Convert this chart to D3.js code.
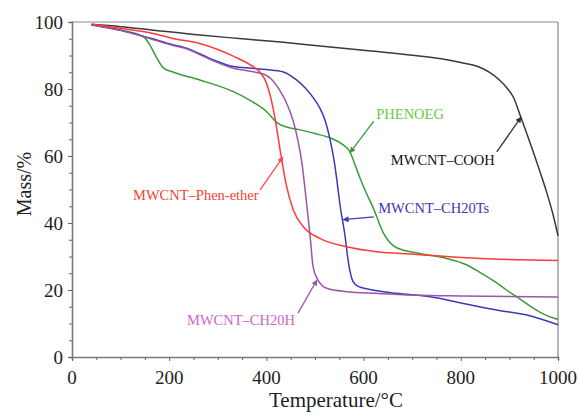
<!DOCTYPE html>
<html><head><meta charset="utf-8">
<script src="https://cdn.jsdelivr.net/npm/d3@7/dist/d3.min.js"></script>
<style>
html,body{margin:0;padding:0;background:#fff;}
svg{display:block;font-family:'Liberation Serif',serif;}
</style></head>
<body><svg id="c" width="579" height="416"></svg>
<script>
// ---- data (Temperature °C, Mass %) ----
const xTicks = [0, 200, 400, 600, 800, 1000];
const yTicks = [0, 20, 40, 60, 80, 100];
const seriesNames = ["MWCNT–COOH", "PHENOEG", "MWCNT–CH20Ts", "MWCNT–CH20H", "MWCNT–Phen-ether"];

const cooh = [[40,99.3],[100,98.6],[160,97.7],[263,96.1],[350,95.0],[430,94.0],[500,93.0],[600,91.6],[700,90.1],[760,89.0],[800,87.9],[835,86.7],[860,84.9],[880,82.6],[895,80.3],[908,77.6],[922,72.2],[935,67.0],[949,61.3],[963,55.3],[977,49.0],[990,42.4],[1000,36.2]];
const phenoeg = [[40,99.2],[100,97.6],[147,95.6],[160,93.2],[174,89.4],[188,86.3],[209,85.0],[263,82.7],[332,79.2],[370,76.3],[400,73.3],[423,69.8],[445,68.5],[470,67.8],[500,66.7],[531,65.4],[555,63.6],[572,61.2],[582,57.5],[593,53.3],[606,48.8],[619,44.8],[640,37.2],[668,32.6],[716,30.9],[771,29.4],[810,27.6],[840,25.2],[870,22.5],[894,20.0],[922,17.3],[949,14.6],[975,12.5],[1000,11.2]];
const ch20ts = [[40,99.2],[100,97.5],[160,95.2],[208,93.2],[229,92.5],[291,88.7],[332,86.7],[370,86.2],[400,85.8],[435,85.1],[462,82.7],[480,80.3],[496,77.5],[510,74.3],[521,70.5],[534,62.8],[540,58.0],[545,52.8],[551,45.9],[562,35.9],[569,28.0],[578,22.6],[590,21.0],[606,20.4],[668,19.0],[737,18.0],[805,16.0],[874,14.0],[942,12.3],[1000,9.6]];
const ch20h = [[40,99.2],[100,97.5],[160,95.1],[208,93.0],[229,92.3],[291,88.4],[332,86.2],[370,85.2],[395,84.4],[410,83.0],[425,80.2],[440,76.3],[455,70.5],[465,64.5],[473,58.0],[478,52.0],[483,45.5],[490,36.0],[496,27.0],[506,23.0],[524,20.5],[565,19.5],[627,19.0],[702,18.5],[800,18.2],[1000,17.9]];
const phenether = [[40,99.3],[100,98.1],[160,96.8],[208,95.1],[263,93.6],[300,91.8],[332,89.8],[366,87.3],[385,85.3],[398,82.5],[408,78.0],[418,71.0],[428,62.0],[440,52.0],[455,44.0],[476,38.9],[510,35.4],[565,32.9],[627,31.4],[702,30.7],[840,29.4],[1000,28.8]];

// annotations: label anchor, arrow tail, arrow tip (data units)
const labelPos = [[656,57.3],[626,71.0],[630,43.0],[236.6,9.6],[125.5,46.9]];
const arrowTail = [[874,61.2],[621,70.4],[621,41.8],[465,13.1],[387,49.9]];
const arrowTip  = [[924,71.6],[572,61.0],[558,41.0],[504,23.0],[434,59.7]];

const lineColors  = ["#3a3a3a","#3c9a3c","#3a3ab8","#9a55a8","#ff3a3a"];
const labelColors = ["#111111","#66cc44","#3a3ab0","#cc66cc","#ee4433"];
const arrowColors = ["#333333","#3c9a3c","#3a3ab8","#9a55a8","#ff4a4a"];
const allSeries = [cooh, phenoeg, ch20ts, ch20h, phenether];

const FONT = "Liberation Serif";

// ---- layout ----
const svg = d3.select("#c");
const L = 72, R = 558, T = 22, B = 357;
const x = d3.scaleLinear().domain([0,1000]).range([L,R]);
const y = d3.scaleLinear().domain([0,100]).range([B,T]);

// frame
svg.append("line").attr("x1",L).attr("x2",R).attr("y1",T).attr("y2",T).attr("stroke","#8a8a8a").attr("stroke-width",1.2);
svg.append("line").attr("x1",R).attr("x2",R).attr("y1",T).attr("y2",B).attr("stroke","#8a8a8a").attr("stroke-width",1.2);

// axes
const xAxis = d3.axisBottom(x).tickValues(d3.range(0,1001,50)).tickSize(3).tickFormat("");
const yAxis = d3.axisLeft(y).tickValues(d3.range(0,101,5)).tickSize(3).tickFormat("");
const gx = svg.append("g").attr("transform",`translate(0,${B})`).call(xAxis);
const gy = svg.append("g").attr("transform",`translate(${L},0)`).call(yAxis);
[gx,gy].forEach(g=>{
  g.select(".domain").attr("stroke","#7a7a7a").attr("stroke-width",1.6);
  g.selectAll(".tick line").attr("stroke","#666").attr("stroke-width",1);
});
gx.selectAll(".tick line").filter(d=>d%200===0).attr("y2",4);
gy.selectAll(".tick line").filter(d=>d%20===0).attr("x2",-4);

svg.append("g").selectAll("text").data(xTicks).join("text")
  .attr("x",d=>x(d)).attr("y",384).attr("text-anchor","middle")
  .style("font-family",FONT).attr("font-size",19).attr("fill","#222").text(d=>d);
svg.append("g").selectAll("text").data(yTicks).join("text")
  .attr("x",L-9).attr("y",d=>y(d)+6.5).attr("text-anchor","end")
  .style("font-family",FONT).attr("font-size",19).attr("fill","#222").text(d=>d);

svg.append("text").attr("transform","translate(31,184) rotate(-90)")
  .attr("text-anchor","middle").style("font-family",FONT).attr("font-size",20).attr("fill","#222").text("Mass/%");
svg.append("text").attr("x",336).attr("y",407)
  .attr("text-anchor","middle").style("font-family",FONT).attr("font-size",21).attr("fill","#222").text("Temperature/°C");

// curves
const line = d3.line().x(d=>x(d[0])).y(d=>y(d[1])).curve(d3.curveMonotoneX);
svg.append("g").selectAll("path").data(allSeries).join("path")
  .attr("d",line).attr("fill","none")
  .attr("stroke",(d,i)=>lineColors[i]).attr("stroke-width",1.5);

// arrow markers
const defs = svg.append("defs");
arrowColors.forEach((c,i)=>{
  defs.append("marker").attr("id","ah"+i).attr("viewBox","0 0 10 10")
    .attr("refX",9).attr("refY",5).attr("markerWidth",7).attr("markerHeight",6)
    .attr("markerUnits","userSpaceOnUse").attr("orient","auto")
    .append("path").attr("d","M0,0 L10,5 L0,10 Z").attr("fill",c);
});
svg.append("g").selectAll("line").data(seriesNames).join("line")
  .attr("x1",(d,i)=>x(arrowTail[i][0])).attr("y1",(d,i)=>y(arrowTail[i][1]))
  .attr("x2",(d,i)=>x(arrowTip[i][0])).attr("y2",(d,i)=>y(arrowTip[i][1]))
  .attr("stroke",(d,i)=>arrowColors[i]).attr("stroke-width",1.3)
  .attr("marker-end",(d,i)=>`url(#ah${i})`);

svg.append("g").selectAll("text").data(seriesNames).join("text")
  .attr("x",(d,i)=>x(labelPos[i][0])).attr("y",(d,i)=>y(labelPos[i][1]))
  .style("font-family",FONT).attr("font-size",14.5).attr("fill",(d,i)=>labelColors[i]).text(d=>d);
</script></body></html>
